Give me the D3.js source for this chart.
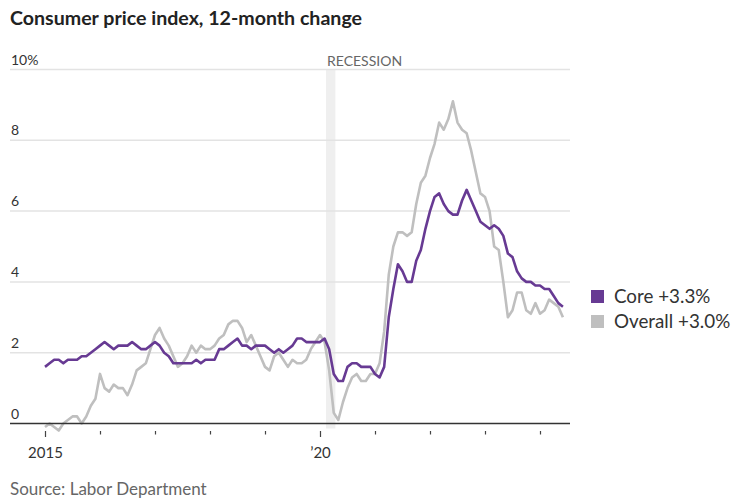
<!DOCTYPE html>
<html>
<head>
<meta charset="utf-8">
<script src="https://cdn.jsdelivr.net/npm/d3@7"></script>
<style>
  html, body { margin: 0; padding: 0; background: #fff; }
  svg { display: block; }
  text { font-family: Lato, "Noto Sans", sans-serif; }
</style>
</head>
<body>
<svg id="chart" width="733" height="500"></svg>
<script>
// ---- Data (monthly, Jan 2015 – Jun 2024) ----
const startYear = 2015;
const overall = [
  -0.1, 0.0, -0.1, -0.2, 0.0, 0.1, 0.2, 0.2, 0.0, 0.2, 0.5, 0.7,
  1.4, 1.0, 0.9, 1.1, 1.0, 1.0, 0.8, 1.1, 1.5, 1.6, 1.7, 2.1,
  2.5, 2.7, 2.4, 2.2, 1.9, 1.6, 1.7, 1.9, 2.2, 2.0, 2.2, 2.1,
  2.1, 2.2, 2.4, 2.5, 2.8, 2.9, 2.9, 2.7, 2.3, 2.5, 2.2, 1.9,
  1.6, 1.5, 1.9, 2.0, 1.8, 1.6, 1.8, 1.7, 1.7, 1.8, 2.1, 2.3,
  2.5, 2.3, 1.5, 0.3, 0.1, 0.6, 1.0, 1.3, 1.4, 1.2, 1.2, 1.4,
  1.4, 1.7, 2.6, 4.2, 5.0, 5.4, 5.4, 5.3, 5.4, 6.2, 6.8, 7.0,
  7.5, 7.9, 8.5, 8.3, 8.6, 9.1, 8.5, 8.3, 8.2, 7.7, 7.1, 6.5,
  6.4, 6.0, 5.0, 4.9, 4.0, 3.0, 3.2, 3.7, 3.7, 3.2, 3.1, 3.4,
  3.1, 3.2, 3.5, 3.4, 3.3, 3.0
];
const core = [
  1.6, 1.7, 1.8, 1.8, 1.7, 1.8, 1.8, 1.8, 1.9, 1.9, 2.0, 2.1,
  2.2, 2.3, 2.2, 2.1, 2.2, 2.2, 2.2, 2.3, 2.2, 2.1, 2.1, 2.2,
  2.3, 2.2, 2.0, 1.9, 1.7, 1.7, 1.7, 1.7, 1.7, 1.8, 1.7, 1.8,
  1.8, 1.8, 2.1, 2.1, 2.2, 2.3, 2.4, 2.2, 2.2, 2.1, 2.2, 2.2,
  2.2, 2.1, 2.0, 2.1, 2.0, 2.1, 2.2, 2.4, 2.4, 2.3, 2.3, 2.3,
  2.3, 2.4, 2.1, 1.4, 1.2, 1.2, 1.6, 1.7, 1.7, 1.6, 1.6, 1.6,
  1.4, 1.3, 1.6, 3.0, 3.8, 4.5, 4.3, 4.0, 4.0, 4.6, 4.9, 5.5,
  6.0, 6.4, 6.5, 6.2, 6.0, 5.9, 5.9, 6.3, 6.6, 6.3, 6.0, 5.7,
  5.6, 5.5, 5.6, 5.5, 5.3, 4.8, 4.7, 4.3, 4.1, 4.0, 4.0, 3.9,
  3.9, 3.8, 3.8, 3.6, 3.4, 3.3
];
const yTicks = [0, 2, 4, 6, 8, 10];
const yTickLabels = ["0", "2", "4", "6", "8", "10%"];
const xTickYears = [2015, 2016, 2017, 2018, 2019, 2020, 2021, 2022, 2023, 2024];
const xTickLabels = {2015: "2015", 2020: "\u201920"};
const recession = [2020.11, 2020.28];
const seriesNames = ["Core +3.3%", "Overall +3.0%"];
const seriesColors = ["#673a93", "#bfbfbf"];

// ---- Layout ----
const svg = d3.select("#chart");
const plotLeft = 10, plotRight = 570;

const x = d3.scaleLinear().domain([2015, 2020]).range([45, 320]);
const y = d3.scaleLinear().domain([0, 10]).range([423.5, 69.5]);

const toPoints = arr => arr.map((v, i) => ({ t: startYear + i / 12, v }));

// Title
svg.append("text")
  .attr("x", 10).attr("y", 25)
  .attr("font-size", 19.6).attr("font-weight", 700)
  .attr("fill", "#222")
  .text("Consumer price index, 12-month change");

// Recession band
svg.append("rect")
  .attr("x", x(recession[0]))
  .attr("y", y(10))
  .attr("width", x(recession[1]) - x(recession[0]))
  .attr("height", y(0) - y(10) + 5)
  .attr("fill", "#efefef");

svg.append("text")
  .attr("x", x(recession[0]) + 1).attr("y", 66)
  .attr("font-size", 14).attr("fill", "#666")
  .text("RECESSION");

// Gridlines + y labels
yTicks.forEach((t, i) => {
  if (t !== 0) {
    svg.append("line")
      .attr("x1", plotLeft).attr("x2", plotRight)
      .attr("y1", y(t)).attr("y2", y(t))
      .attr("stroke", "#e3e3e3").attr("stroke-width", 1.5);
  }
  svg.append("text")
    .attr("x", 11).attr("y", y(t) - 5)
    .attr("font-size", 14).attr("fill", "#333")
    .text(yTickLabels[i]);
});

// Lines
const line = d3.line().x(d => x(d.t)).y(d => y(d.v)).curve(d3.curveLinear);

svg.append("path")
  .datum(toPoints(overall))
  .attr("fill", "none")
  .attr("stroke", seriesColors[1])
  .attr("stroke-width", 2.6)
  .attr("stroke-linejoin", "round")
  .attr("d", line);

svg.append("path")
  .datum(toPoints(core))
  .attr("fill", "none")
  .attr("stroke", seriesColors[0])
  .attr("stroke-width", 2.6)
  .attr("stroke-linejoin", "round")
  .attr("d", line);

// Zero baseline
svg.append("line")
  .attr("x1", plotLeft).attr("x2", plotRight)
  .attr("y1", y(0)).attr("y2", y(0))
  .attr("stroke", "#333").attr("stroke-width", 1.5);

// X ticks
const xAxis = d3.axisBottom(x)
  .tickValues(xTickYears)
  .tickSize(0)
  .tickFormat("");
const xg = svg.append("g").attr("transform", `translate(0,${y(0)})`).call(xAxis);
xg.select(".domain").remove();
xg.selectAll(".tick").each(function(d) {
  const g = d3.select(this);
  const labeled = xTickLabels[d] !== undefined;
  g.append("line")
    .attr("y1", 7.5).attr("y2", labeled ? 13.5 : 11)
    .attr("stroke", "#444").attr("stroke-width", 1.2);
  if (labeled) {
    g.append("text")
      .attr("y", 34).attr("text-anchor", "middle")
      .attr("font-size", 15).attr("fill", "#333")
      .attr("font-family", "Lato, sans-serif")
      .text(xTickLabels[d]);
  }
});

// Legend
const legend = svg.append("g");
seriesNames.forEach((name, i) => {
  const yy = 290 + i * 25;
  legend.append("rect")
    .attr("x", 591).attr("y", yy)
    .attr("width", 13).attr("height", 13)
    .attr("fill", seriesColors[i]);
  legend.append("text")
    .attr("x", 614).attr("y", yy + 12.5)
    .attr("font-size", 18.8).attr("fill", "#333")
    .text(name);
});

// Source
svg.append("text")
  .attr("x", 10).attr("y", 495)
  .attr("font-size", 17).attr("fill", "#666")
  .text("Source: Labor Department");
</script>
</body>
</html>
